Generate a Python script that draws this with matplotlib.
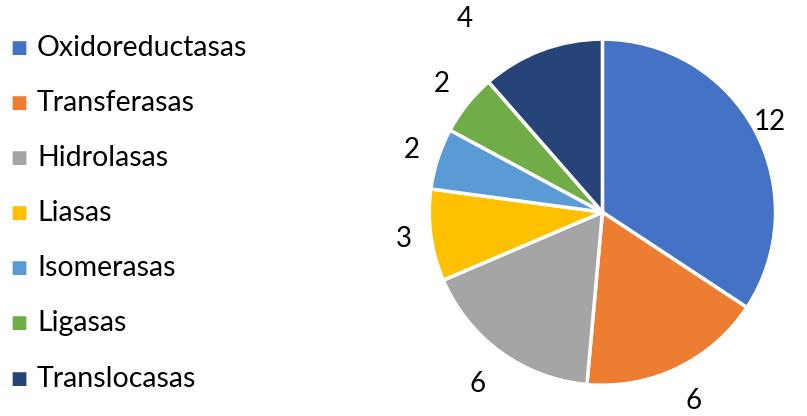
import numpy as np
import matplotlib.pyplot as plt

plt.rcParams['font.family'] = ['Lato', 'DejaVu Sans']

enzimas = ['Oxidoreductasas', 'Transferasas', 'Hidrolasas', 'Liasas',
           'Isomerasas', 'Ligasas', 'Translocasas']
cantidad = [12, 6, 6, 3, 2, 2, 4]
colores = ['#4472C4', '#ED7D31', '#A5A5A5', '#FFC000',
           '#5B9BD5', '#70AD47', '#264478']

# distancia radial de cada etiqueta y giro extra (grados)
dist_etq = [1.10, 1.21, 1.23, 1.16, 1.16, 1.19, 1.37]
giro_etq = [0, 0, 0, 0, 0, 0, 15]

fig = plt.figure(figsize=(8.07, 4.16), dpi=100)
ax = fig.add_axes([0.532, 0.074, 0.429, 0.832])
wedges, _ = ax.pie(cantidad, colors=colores, startangle=90, counterclock=False,
                   wedgeprops=dict(edgecolor='white', linewidth=2.5))
ax.set_xlim(-1, 1)
ax.set_ylim(-1, 1)
ax.set_aspect('auto')

for w, v, d, g in zip(wedges, cantidad, dist_etq, giro_etq):
    ang = np.deg2rad((w.theta1 + w.theta2) / 2 + g)
    ax.text(d * np.cos(ang), d * np.sin(ang), str(v), fontsize=20,
            ha='center', va='center', clip_on=False)

# leyenda a la izquierda
ys = np.linspace(0.885, 0.09, len(enzimas))
for nombre, c, y in zip(enzimas, colores, ys):
    fig.text(0.023, y, '\u25A0', color=c, fontsize=13, ha='center', va='center',
             family='DejaVu Sans')
    fig.text(0.046, y, nombre, fontsize=20.5, ha='left', va='center')

fig.savefig('out.png', dpi=100)
